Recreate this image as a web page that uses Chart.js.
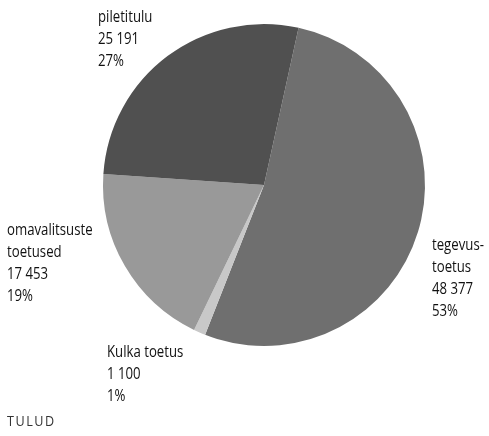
<!DOCTYPE html>
<html>
<head>
<meta charset="utf-8">
<script src="https://cdn.jsdelivr.net/npm/chart.js@4"></script>
<style>
  html, body { margin: 0; padding: 0; background: #fff; }
  #wrap { position: relative; width: 489px; height: 436px; }
  .lbl { position: absolute; font-family: "Open Sans", "DejaVu Sans Condensed", sans-serif; font-size: 16.5px; line-height: 22px; color: #111; white-space: nowrap; transform: scaleX(0.8); transform-origin: left top; }
  #title { position: absolute; left: 7px; top: 411px; font-family: "Open Sans", "DejaVu Sans Condensed", sans-serif; font-size: 14px; letter-spacing: 1.7px; color: #333; transform: scaleX(0.9); transform-origin: left top; }
</style>
</head>
<body>
<div id="wrap">
  <canvas id="pie" width="489" height="436"></canvas>
  <div id="title">TULUD</div>
</div>
<script>
// Andmed
const categories = ['tegevus-\ntoetus', 'Kulka toetus', 'omavalitsuste\ntoetused', 'piletitulu'];
const values = [48377, 1100, 17453, 25191];
const colors = ['#6f6f6f', '#c8c8c8', '#999999', '#505050'];

// Siltide asukohad (vasak ülemine nurk)
const labelPos = [[432, 233], [107, 340], [7, 218], [98, 5]];

const total = values.reduce((a, b) => a + b, 0);
const fmt = v => String(v).replace(/\B(?=(\d{3})+(?!\d))/g, ' ');

const wrap = document.getElementById('wrap');
categories.forEach((c, i) => {
  const d = document.createElement('div');
  d.className = 'lbl';
  d.style.left = labelPos[i][0] + 'px';
  d.style.top = labelPos[i][1] + 'px';
  const pct = Math.round(values[i] / total * 100);
  d.innerHTML = c.split('\n').concat([fmt(values[i]), pct + '%']).join('<br>');
  wrap.appendChild(d);
});

new Chart(document.getElementById('pie'), {
  type: 'pie',
  data: {
    labels: categories.map(c => c.replace('\n', '')),
    datasets: [{
      data: values,
      backgroundColor: colors,
      borderWidth: 0
    }]
  },
  options: {
    responsive: false,
    animation: false,
    rotation: 12.4,
    layout: { padding: { left: 103, right: 64, top: 24, bottom: 90 } },
    plugins: {
      legend: { display: false },
      tooltip: { enabled: false }
    }
  }
});
</script>
</body>
</html>
